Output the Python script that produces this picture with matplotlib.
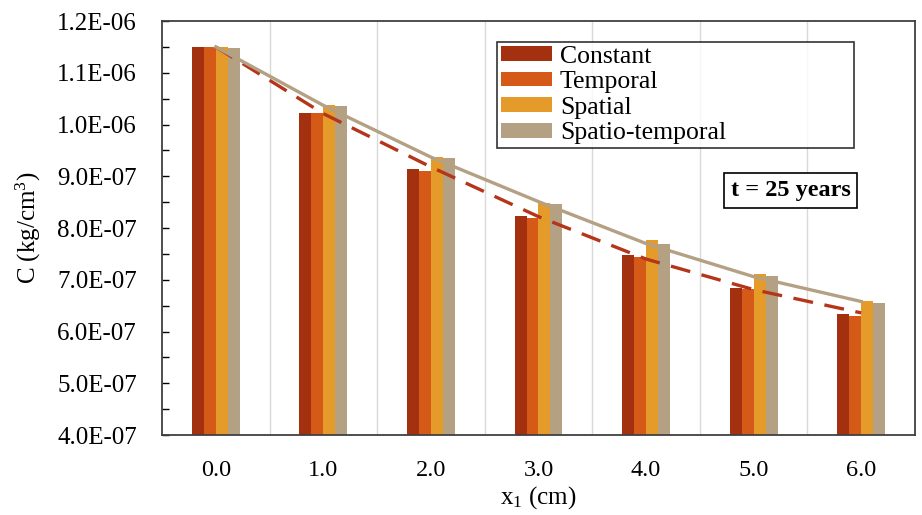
import numpy as np
import matplotlib.pyplot as plt
import matplotlib.ticker as mtick

plt.rcParams["font.family"] = ["Liberation Serif", "DejaVu Serif"]
plt.rcParams["mathtext.fontset"] = "custom"
plt.rcParams["mathtext.rm"] = "Liberation Serif"
plt.rcParams["mathtext.it"] = "Liberation Serif:italic"

positions = ["0.0", "1.0", "2.0", "3.0", "4.0", "5.0", "6.0"]
series = ["Constant", "Temporal", "Spatial", "Spatio-temporal"]
constant = [1.150, 1.023, 0.915, 0.823, 0.748, 0.685, 0.633]
temporal = [1.150, 1.022, 0.911, 0.820, 0.744, 0.682, 0.630]
spatial = [1.150, 1.038, 0.938, 0.849, 0.776, 0.712, 0.659]
spatio_temporal = [1.147, 1.035, 0.935, 0.846, 0.770, 0.708, 0.656]
# curves drawn over the bars (dashed: constant case, solid: spatio-temporal case)
curve_constant = [1.150, 1.021, 0.918, 0.822, 0.740, 0.681, 0.636]
curve_spatio_temporal = [1.150, 1.037, 0.937, 0.851, 0.770, 0.706, 0.658]

colors = ["#A3300F", "#D55A17", "#E59B2A", "#B4A083"]
scale = 1e-6

fig = plt.figure(figsize=(9.22, 5.15), dpi=100)
ax = fig.add_axes([0.1757, 0.1553, 0.8167, 0.8039])

x = np.arange(len(positions))
w = 0.111
for i, (name, vals, c) in enumerate(
    zip(series, [constant, temporal, spatial, spatio_temporal], colors)
):
    ax.bar(x + (i - 1.5) * w, np.array(vals) * scale, width=w, color=c,
           label=name, zorder=2)

ax.plot(x, np.array(curve_constant) * scale, color="#B5351A", lw=2.4,
        dashes=(6, 3.5), zorder=3)
ax.plot(x, np.array(curve_spatio_temporal) * scale, color="#B4A083", lw=2.4,
        zorder=3)

ax.set_xlim(-0.5, len(positions) - 0.5)
ax.set_ylim(4e-7, 1.2e-6)
ax.set_xticks(x)
ax.set_xticklabels(positions)
ax.set_xticks(np.arange(len(positions) - 1) + 0.5, minor=True)
ax.yaxis.set_major_locator(mtick.MultipleLocator(1e-7))
ax.yaxis.set_minor_locator(mtick.MultipleLocator(0.5e-7))
ax.yaxis.set_major_formatter(mtick.FuncFormatter(lambda v, _: f"{v:.1E}"))

ax.grid(axis="x", which="minor", color="#d9d9d9", lw=1.0, zorder=0)
ax.tick_params(axis="x", which="minor", length=0)
ax.tick_params(axis="x", which="major", direction="in", length=5, width=1.2,
               labelsize=17.5, pad=18)
ax.tick_params(axis="y", which="both", direction="in", length=5, width=1.0,
               labelsize=18, pad=18)
for s in ax.spines.values():
    s.set_color("#404040")
    s.set_linewidth(1.3)

ax.set_xlabel("x$_1$ (cm)", fontsize=18, labelpad=2)
ax.set_ylabel("C (kg/cm$^3$)", fontsize=18, labelpad=10)

leg = ax.legend(loc="upper left", bbox_to_anchor=(0.445, 0.49, 0.4735, 0.46),
                mode="expand", fontsize=18.5, frameon=True, fancybox=False,
                edgecolor="black", handlelength=2.0, handleheight=0.5,
                labelspacing=0.14, borderaxespad=0, borderpad=0.15,
                handletextpad=0.3)
leg.get_frame().set_linewidth(1.2)

ax.text(0.835, 0.5906, "t = 25 years", transform=ax.transAxes, fontsize=17.5,
        fontweight="bold", ha="center", va="center", zorder=5,
        bbox=dict(boxstyle="square,pad=0.28", fc="white", ec="black", lw=1.2))

fig.savefig("out.png", dpi=100)
